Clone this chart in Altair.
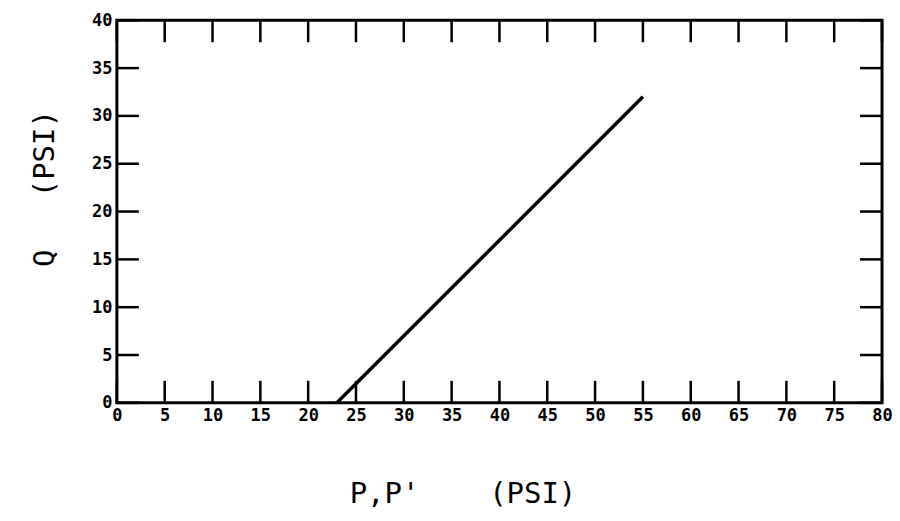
import altair as alt
import pandas as pd

# Data
P = [23.0, 55.0]
Q = [0.0, 32.0]
x_ticks = list(range(0, 81, 5))
y_ticks = list(range(0, 41, 5))

NB = "\u00a0"
X_TITLE = "P,P'" + NB * 4 + "(PSI)"
Y_TITLE = "Q" + NB * 3 + "(PSI)"

W, H = 766, 383
TL = 22
MONO = "DejaVu Sans Mono"

xs = alt.Scale(domain=[0, 80], nice=False, zero=False)
ys = alt.Scale(domain=[0, 40], nice=False, zero=False)

x_axis = alt.Axis(
    values=x_ticks, format="d", title=X_TITLE, tickSize=0,
    domain=False, grid=False, labelFont=MONO, labelFontWeight="bold",
    labelFontSize=17, labelColor="black", labelPadding=5,
    titleFont=MONO, titleFontWeight="normal", titleFontSize=29,
    titleColor="black", titleX=346, titleY=100, titleAlign="center",
    titleBaseline="alphabetic", labelFlush=False)
y_axis = alt.Axis(
    values=y_ticks, format="d", title=Y_TITLE, tickSize=0,
    domain=False, grid=False, labelFont=MONO, labelFontWeight="bold",
    labelFontSize=17, labelColor="black", labelPadding=5,
    titleFont=MONO, titleFontWeight="normal", titleFontSize=29,
    titleColor="black", titleX=-72, titleY=168, titleAlign="center",
    titleBaseline="middle", labelFlush=False)

line = alt.Chart(pd.DataFrame({"P": P, "Q": Q})).mark_line(
    color="black", strokeWidth=3.5
).encode(
    x=alt.X("P:Q", scale=xs, axis=x_axis),
    y=alt.Y("Q:Q", scale=ys, axis=y_axis),
)

xt = pd.DataFrame({"xv": x_ticks})
yt = pd.DataFrame({"yv": y_ticks})

bottom_ticks = alt.Chart(xt).mark_rule(color="black", strokeWidth=2.5).encode(
    x=alt.X("xv:Q", scale=xs, axis=x_axis), y=alt.value(H), y2=alt.value(H - TL))
top_ticks = alt.Chart(xt).mark_rule(color="black", strokeWidth=2.5).encode(
    x=alt.X("xv:Q", scale=xs, axis=x_axis), y=alt.value(0), y2=alt.value(TL))
left_ticks = alt.Chart(yt).mark_rule(color="black", strokeWidth=2.5).encode(
    y=alt.Y("yv:Q", scale=ys, axis=y_axis), x=alt.value(0), x2=alt.value(TL))
right_ticks = alt.Chart(yt).mark_rule(color="black", strokeWidth=2.5).encode(
    y=alt.Y("yv:Q", scale=ys, axis=y_axis), x=alt.value(W), x2=alt.value(W - TL))

chart = alt.layer(line, bottom_ticks, top_ticks, left_ticks, right_ticks).properties(
    width=W, height=H,
    autosize=alt.AutoSizeParams(type="none"),
    padding={"left": 109, "top": 12, "right": 10, "bottom": 110},
    background="white",
).configure_view(stroke="black", strokeWidth=3)

chart.save("out.html", embed_options={"renderer": "svg", "actions": False})
